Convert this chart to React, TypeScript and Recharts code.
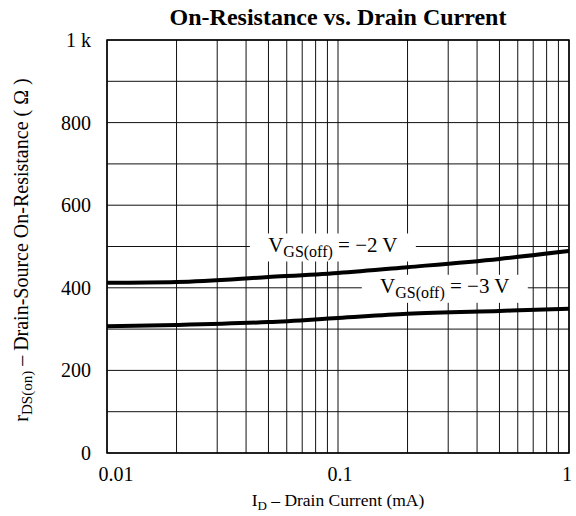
import React from "react";
import {
  LineChart, Line,
  XAxis, YAxis, CartesianGrid,
  ReferenceArea, ReferenceDot, Label,
} from "recharts";

// drain current (mA) and on-resistance (ohm)
const drainCurrent = [0.01, 0.02, 0.05, 0.1, 0.2, 0.5, 1];
const rdsVgsMinus2 = [412, 414, 426, 436, 450, 470, 489];
const rdsVgsMinus3 = [307, 310, 317, 327, 337, 344, 349];

const xGridTicks = [
  0.01, 0.02, 0.03, 0.04, 0.05, 0.06, 0.07, 0.08, 0.09,
  0.1, 0.2, 0.3, 0.4, 0.5, 0.6, 0.7, 0.8, 0.9, 1,
];
const xLabelTicks = [0.01, 0.1, 1];
const xLabelText = ["0.01", "0.1", "1"];

const yGridTicks = [0, 100, 200, 300, 400, 500, 600, 700, 800, 900, 1000];
const yLabelTicks = [0, 200, 400, 600, 800, 1000];
const yLabelText = ["0", "200", "400", "600", "800", "1 k"];

// curve labels: anchor position (mA, ohm) and the V_GS(off) value
const curveLabelX = [0.095, 0.29];
const curveLabelY = [500, 400];
const curveLabelV = ["\u22122", "\u22123"];

const data = drainCurrent.map((id, i) => ({
  id,
  v2: rdsVgsMinus2[i],
  v3: rdsVgsMinus3[i],
}));

const serif = "'Liberation Serif', 'Times New Roman', serif";

function XTick({ x, y, payload }: any) {
  const i = xLabelTicks.indexOf(payload.value);
  if (i < 0) return <g />;
  const dx = i === 0 ? 9 : i === 2 ? -2 : 2;
  return (
    <text x={x + dx} y={y + 20} textAnchor="middle" fontFamily={serif} fontSize={20} fill="#000">
      {xLabelText[i]}
    </text>
  );
}

function YTick({ x, y, payload }: any) {
  const i = yLabelTicks.indexOf(payload.value);
  if (i < 0) return <g />;
  return (
    <text x={x - 8} y={y + 7} textAnchor="end" fontFamily={serif} fontSize={20} fill="#000">
      {yLabelText[i]}
    </text>
  );
}

function CurveTag({ cx, cy, v }: any) {
  return (
    <g>
      <rect x={cx - 83} y={cy - 13} width={166} height={28} fill="#fff" />
      <text x={cx} y={cy + 5} textAnchor="middle" fontFamily={serif} fontSize={21} fill="#000">
        V
        <tspan fontSize={16} dy={5}>GS(off)</tspan>
        <tspan dy={-5}>{` = ${v} V`}</tspan>
      </text>
    </g>
  );
}

export default function App() {
  return (
    <div style={{ position: "absolute", left: 0, top: 0, width: 576, height: 516, background: "#fff" }}>
      <div
        style={{
          position: "absolute", left: 107, width: 462, top: 4, textAlign: "center",
          fontFamily: serif, fontWeight: 700, fontSize: 24, color: "#000",
        }}
      >
        On-Resistance vs. Drain Current
      </div>
      <LineChart width={576} height={516} data={data} margin={{ top: 40, right: 7, bottom: 0, left: 0 }}>
        <CartesianGrid stroke="#111" strokeWidth={1} />
        <XAxis
          dataKey="id"
          type="number"
          scale="log"
          domain={[0.01, 1]}
          ticks={xGridTicks}
          interval={0}
          allowDataOverflow
          height={63}
          tickLine={false}
          axisLine={false}
          tick={<XTick />}
        >
          <Label
            content={() => (
              <text x={338} y={506} textAnchor="middle" fontFamily={serif} fontSize={17.5} fill="#000">
                I
                <tspan fontSize={13} dy={4}>D</tspan>
                <tspan dy={-4}> – Drain Current (mA)</tspan>
              </text>
            )}
          />
        </XAxis>
        <YAxis
          type="number"
          domain={[0, 1000]}
          ticks={yGridTicks}
          interval={0}
          width={107}
          tickLine={false}
          axisLine={false}
          tick={<YTick />}
        >
          <Label
            content={() => (
              <text
                x={0}
                y={0}
                transform="translate(28 250) rotate(-90)"
                textAnchor="middle"
                fontFamily={serif}
                fontSize={20}
                fill="#000"
              >
                r
                <tspan fontSize={15} dy={4}>DS(on)</tspan>
                <tspan dy={-4}> – Drain-Source On-Resistance ( Ω )</tspan>
              </text>
            )}
          />
        </YAxis>
        <ReferenceArea
          x1={0.01}
          x2={1}
          y1={0}
          y2={1000}
          fill="none"
          fillOpacity={0}
          stroke="#000"
          strokeWidth={1.5}
          ifOverflow="visible"
        />
        {curveLabelX.map((lx, i) => (
          <ReferenceDot
            key={i}
            x={lx}
            y={curveLabelY[i]}
            ifOverflow="visible"
            shape={(p: any) => <CurveTag cx={p.cx} cy={p.cy} v={curveLabelV[i]} />}
          />
        ))}
        <Line
          type="monotone"
          dataKey="v2"
          stroke="#000"
          strokeWidth={4}
          dot={false}
          isAnimationActive={false}
        />
        <Line
          type="monotone"
          dataKey="v3"
          stroke="#000"
          strokeWidth={4}
          dot={false}
          isAnimationActive={false}
        />
      </LineChart>
    </div>
  );
}
